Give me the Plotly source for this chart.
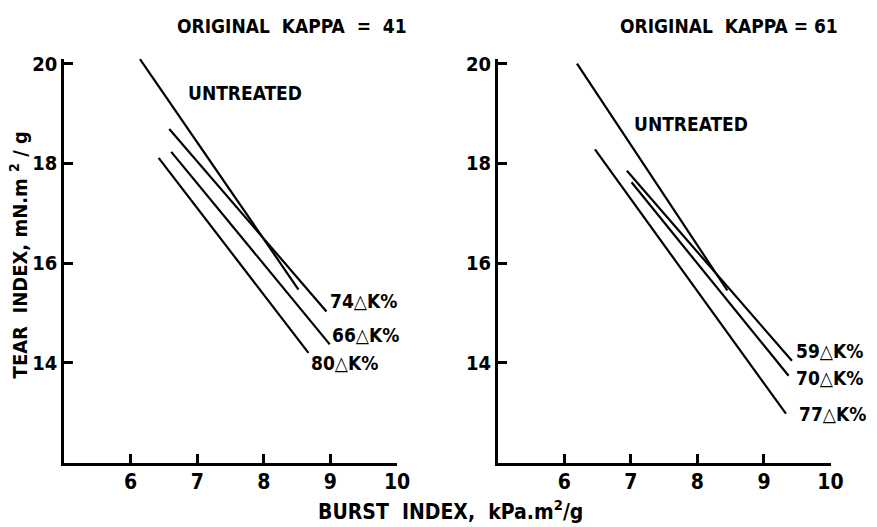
import plotly.graph_objects as go

# ---- data ----
# Kappa 41 panel: [x_start, x_end], [y_start, y_end]
k41_names = ["UNTREATED", "74\u25b3K%", "66\u25b3K%", "80\u25b3K%"]
k41_burst = [[6.14, 8.52], [6.58, 8.94], [6.61, 8.99], [6.42, 8.67]]
k41_tear = [[20.09, 15.47], [18.69, 15.03], [18.23, 14.37], [18.11, 14.20]]

# Kappa 61 panel
k61_names = ["UNTREATED", "59\u25b3K%", "70\u25b3K%", "77\u25b3K%"]
k61_burst = [[6.19, 8.45], [6.94, 9.42], [7.01, 9.37], [6.46, 9.33]]
k61_tear = [[20.00, 15.45], [17.85, 14.04], [17.62, 13.74], [18.28, 12.98]]

x_ticks = [6, 7, 8, 9, 10]
y_ticks = [14, 16, 18, 20]
panel_titles = ["ORIGINAL\u00a0\u00a0KAPPA\u00a0\u00a0=\u00a0\u00a041",
                "ORIGINAL\u00a0\u00a0KAPPA\u00a0=\u00a061"]
x_title = "BURST\u00a0\u00a0INDEX,\u00a0\u00a0kPa.m<sup>2</sup>/g"
y_title = "TEAR\u00a0\u00a0INDEX,\u00a0mN.m\u00a0<sup>2</sup>\u00a0/\u00a0g"

# label placement (data coords of left edge / vertical centre)
k41_label_pos = [(6.83, 19.41), (8.96, 15.23), (8.99, 14.56), (8.68, 13.99)]
k61_label_pos = [(7.01, 18.78), (9.45, 14.24), (9.45, 13.69), (9.50, 12.98)]

FONT = "DejaVu Sans Condensed, Liberation Sans Narrow, sans-serif"

fig = go.Figure()
for xs, ys in zip(k41_burst, k41_tear):
    fig.add_trace(go.Scatter(x=xs, y=ys, mode="lines", xaxis="x", yaxis="y",
                             line=dict(color="black", width=2.2), showlegend=False))
for xs, ys in zip(k61_burst, k61_tear):
    fig.add_trace(go.Scatter(x=xs, y=ys, mode="lines", xaxis="x2", yaxis="y2",
                             line=dict(color="black", width=2.2), showlegend=False))

W, H = 877, 527
ydom = [1 - 461.7 / H, 1 - 52.3 / H]
axis_common = dict(showline=True, linecolor="black", linewidth=2.5, ticks="inside",
                   ticklen=9, tickwidth=2.5, tickcolor="black", showgrid=False,
                   zeroline=False, fixedrange=True)

xa = dict(axis_common, range=[5, 10], tickvals=x_ticks, ticktext=[str(v) for v in x_ticks],
          ticklabelstandoff=-2,
          tickfont=dict(family=FONT, size=21, color="black", weight="bold"))
ya = dict(axis_common, range=[12, 20.1], tickvals=y_ticks, ticktext=[str(v) for v in y_ticks],
          domain=ydom, ticklabelstandoff=0,
          tickfont=dict(family=FONT, size=20, color="black", weight="bold"))

fig.update_layout(
    width=W, height=H, autosize=False,
    margin=dict(l=0, r=0, t=0, b=0),
    paper_bgcolor="white", plot_bgcolor="white",
    xaxis=dict(xa, domain=[65 / W, 403 / W], anchor="y"),
    yaxis=dict(ya, anchor="x"),
    xaxis2=dict(xa, domain=[505.3 / W, 843 / W], anchor="y2"),
    yaxis2=dict(ya, anchor="x2"),
)

ann = []
lab_font = dict(family=FONT, size=19, color="black", weight="bold")
for name, (lx, ly) in zip(k41_names, k41_label_pos):
    ann.append(dict(x=lx, y=ly, xref="x", yref="y", text=name, showarrow=False,
                    xanchor="left", yanchor="middle", font=lab_font))
for name, (lx, ly) in zip(k61_names, k61_label_pos):
    ann.append(dict(x=lx, y=ly, xref="x2", yref="y2", text=name, showarrow=False,
                    xanchor="left", yanchor="middle", font=lab_font))

title_font = dict(family=FONT, size=19, color="black", weight="bold")
ann.append(dict(x=296 / W, y=1 - 19 / H, xref="paper", yref="paper", text=panel_titles[0],
                showarrow=False, xanchor="center", yanchor="middle", font=title_font))
ann.append(dict(x=740 / W, y=1 - 19 / H, xref="paper", yref="paper", text=panel_titles[1],
                showarrow=False, xanchor="center", yanchor="middle", font=title_font))
ann.append(dict(x=457 / W, y=1 - 510 / H, xref="paper", yref="paper", text=x_title,
                showarrow=False, xanchor="center", yanchor="middle",
                font=dict(family=FONT, size=21, color="black", weight="bold")))
ann.append(dict(x=19 / W, y=1 - 251 / H, xref="paper", yref="paper", text=y_title,
                showarrow=False, xanchor="center", yanchor="middle", textangle=-90,
                font=dict(family=FONT, size=20, color="black", weight="bold")))
fig.update_layout(annotations=ann)

fig.write_html("out.html")
